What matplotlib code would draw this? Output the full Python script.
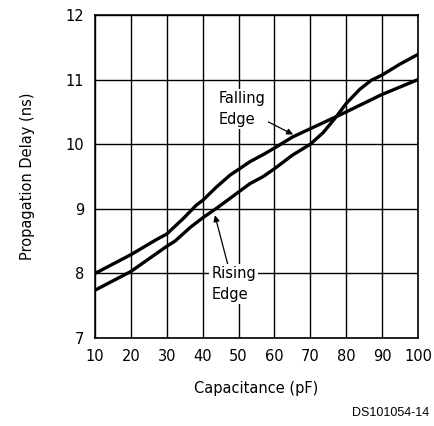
import numpy as np
import matplotlib.pyplot as plt

cap_f = [10, 20, 27, 30, 34.6, 38.3, 40, 43.9, 47.6, 50, 53.2, 56.9, 60, 65, 70, 77, 80, 90, 100]
falling = [8.0, 8.29, 8.52, 8.61, 8.85, 9.06, 9.13, 9.34, 9.52, 9.61, 9.73, 9.84, 9.94, 10.11,
           10.24, 10.42, 10.5, 10.77, 11.0]
cap_r = [10, 20, 30, 32.3, 36.5, 40, 43.9, 47.6, 50, 53.2, 56.9, 60, 65, 70, 73.6, 77.3, 80,
         83.8, 87, 90, 95, 100]
rising = [7.74, 8.03, 8.42, 8.5, 8.71, 8.86, 9.01, 9.16, 9.26, 9.39, 9.5, 9.62, 9.83, 10.0,
          10.18, 10.43, 10.63, 10.85, 10.99, 11.07, 11.24, 11.39]

xticks = [10, 20, 30, 40, 50, 60, 70, 80, 90, 100]
yticks = [7, 8, 9, 10, 11, 12]

plt.rcParams['font.family'] = 'DejaVu Sans'
fig = plt.figure(figsize=(4.34, 4.26), dpi=100)
ax = fig.add_axes([0.219, 0.2066, 0.744, 0.7582])

ax.plot(cap_f, falling, color='black', lw=2.4, solid_joinstyle='round', zorder=3)
ax.plot(cap_r, rising, color='black', lw=2.4, solid_joinstyle='round', zorder=3)

ax.set_xlim(10, 100)
ax.set_ylim(7, 12)
ax.set_xticks(xticks)
ax.set_yticks(yticks)
ax.grid(True, color='black', lw=1.0)
ax.set_axisbelow(True)
for s in ax.spines.values():
    s.set_linewidth(1.2)
ax.tick_params(length=0, labelsize=10.5, pad=8)

ax.set_xlabel('Capacitance (pF)', fontsize=10.5, labelpad=12)
ax.set_ylabel('Propagation Delay (ns)', fontsize=10.5, labelpad=22)

box = dict(facecolor='white', edgecolor='none', pad=1.5)
ax.annotate('Falling\nEdge', xy=(65.2, 10.15), xytext=(44.5, 10.55),
            fontsize=10.5, ha='left', va='center', linespacing=1.5, bbox=box,
            arrowprops=dict(arrowstyle='-|>', color='black', lw=0.9,
                            mutation_scale=9, shrinkA=0, shrinkB=0),
            zorder=4)
ax.annotate('Rising\nEdge', xy=(43.4, 8.9), xytext=(42.4, 7.83),
            fontsize=10.5, ha='left', va='center', linespacing=1.5, bbox=box,
            arrowprops=dict(arrowstyle='-|>', color='black', lw=0.9,
                            mutation_scale=9, shrinkA=0, shrinkB=0,
                            relpos=(0.38, 1.0)),
            zorder=4)

fig.text(0.99, 0.03, 'DS101054-14', fontsize=9, ha='right', va='center',
         family='Liberation Sans')

fig.savefig('out.png', dpi=100)
